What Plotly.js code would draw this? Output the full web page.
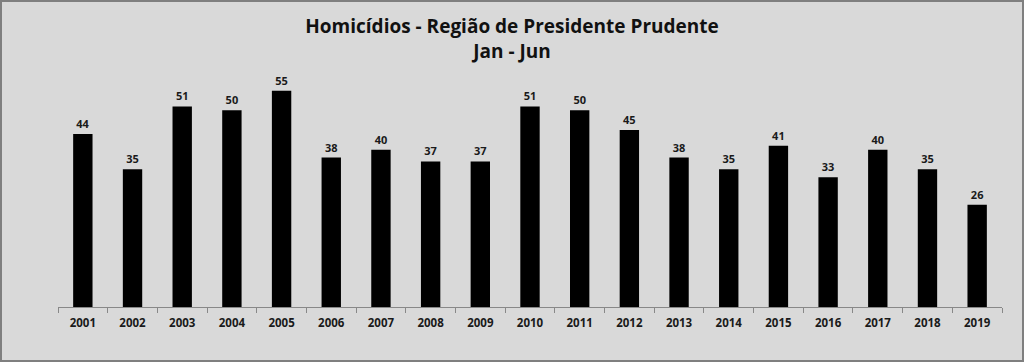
<!DOCTYPE html>
<html><head><meta charset="utf-8">
<script src="https://cdn.plot.ly/plotly-3.0.1.min.js"></script>
<style>html,body{margin:0;padding:0;background:#d9d9d9;}#c{width:1024px;height:362px;}</style>
</head><body><div id="c"></div>
<script>
const years = ['2001','2002','2003','2004','2005','2006','2007','2008','2009','2010','2011','2012','2013','2014','2015','2016','2017','2018','2019'];
const homicidios = [44,35,51,50,55,38,40,37,37,51,50,45,38,35,41,33,40,35,26];
const titleLines = ['Homicídios - Região de Presidente Prudente','Jan - Jun'];

const trace = {
  type:'bar', x: years, y: homicidios,
  marker:{color:'#000000'},
  text: homicidios.map(String), textposition:'outside',
  textfont:{family:'Open Sans', size:11, color:'#1a1a1a', weight:'bold'},
  cliponaxis:false, hoverinfo:'none'
};
const layout = {
  width:1024, height:362,
  paper_bgcolor:'#d9d9d9', plot_bgcolor:'#d9d9d9',
  margin:{l:58, r:22, t:71, b:55},
  bargap:0.61,
  showlegend:false,
  title:{text: titleLines.join('<br>'), x:0.5, xanchor:'center', y:0.908, yanchor:'top',
    font:{family:'Open Sans', size:19, color:'#111111', weight:'bold'}},
  xaxis:{type:'category', showline:true, linecolor:'#888888', linewidth:1,
    ticks:'outside', ticklen:5, tickcolor:'#888888', tickson:'boundaries',
    ticklabelstandoff:5,
    showgrid:false, zeroline:false,
    tickfont:{family:'Open Sans', size:11.5, color:'#1a1a1a', weight:'bold'}},
  yaxis:{range:[0,60], visible:false, showgrid:false, zeroline:false}
};
Plotly.newPlot('c',[trace],layout,{displayModeBar:false,staticPlot:true});
</script>
<div style="position:absolute;left:0;top:0;width:1020px;height:358px;border:2px solid #7f7f7f;pointer-events:none;"></div>
</body></html>
